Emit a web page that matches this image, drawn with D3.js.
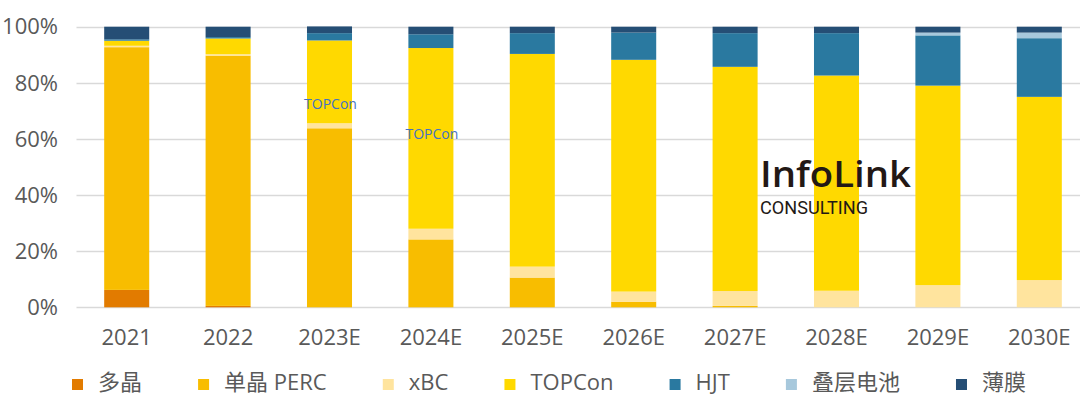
<!DOCTYPE html>
<html><head><meta charset="utf-8">
<script src="https://cdn.jsdelivr.net/npm/d3@7"></script>
<style>
html,body{margin:0;padding:0;background:#fff;}
svg{display:block;}
</style></head>
<body>
<svg id="chart" width="1080" height="399"></svg>
<script>
const categories = ["2021","2022","2023E","2024E","2025E","2026E","2027E","2028E","2029E","2030E"];
const seriesNames = ["多晶","单晶 PERC","xBC","TOPCon","HJT","叠层电池","薄膜"];
const poly     = [6.2, 0.5, 0,    0,    0,    0,    0,    0,    0,    0];
const perc     = [86.5,89.2,63.8, 24.2, 10.6, 2.0,  0.5,  0,    0,    0];
const xbc      = [0.5, 0.5, 1.8,  3.8,  3.9,  3.6,  5.3,  5.9,  7.9,  9.7];
const topcon   = [1.8, 5.6, 29.5, 64.4, 75.8, 82.6, 79.9, 76.7, 71.1, 65.3];
const hjt      = [0.5, 0.5, 2.6,  4.9,  7.4,  9.7,  12.0, 15.1, 17.9, 20.9];
const tandem   = [0,   0,   0,    0,    0,    0,    0,    0,    1.0,  2.0];
const thinFilm = [4.5, 3.7, 2.4,  2.7,  2.3,  2.1,  2.3,  2.3,  2.1,  2.1];
const yTicks = [0, 20, 40, 60, 80, 100];
const annotationCats = ["2023E","2024E"];
const annotationVals = [72.5, 61.7];
const annotationText = ["TOPCon","TOPCon"];
const colors = ["#E27B00","#F8BD00","#FFE49E","#FFD900","#2A79A0","#A7C8DC","#254E75"];

const seriesValues = [poly, perc, xbc, topcon, hjt, tandem, thinFilm];
const rows = categories.map((c, i) => {
  const r = {cat: c};
  seriesNames.forEach((s, k) => r[s] = seriesValues[k][i]);
  return r;
});

const svg = d3.select("#chart");
const x = d3.scaleBand().domain(categories).range([76, 1090]).paddingInner(0.556).paddingOuter(0.278);
const y = d3.scaleLinear().domain([0, 100]).range([307.3, 26.7]);

// gridlines
svg.append("g").selectAll("line").data(yTicks).join("line")
  .attr("x1", 76.5).attr("x2", 1080)
  .attr("y1", d => Math.round(y(d)) + 0.5).attr("y2", d => Math.round(y(d)) + 0.5)
  .attr("stroke", "#d9d9d9").attr("stroke-width", 1.3);

// y axis labels
const yAxis = d3.axisLeft(y).tickValues(yTicks).tickFormat(d => d + "%").tickSize(0).tickPadding(0);
const gy = svg.append("g").attr("transform", "translate(58,0)").call(yAxis);
gy.select(".domain").remove();
gy.selectAll("text").attr("font-family", "'Open Sans', sans-serif").attr("font-size", 22)
  .attr("fill", "#595959").attr("dy", "0.33em");

// stacked bars
const stack = d3.stack().keys(seriesNames);
const stacked = stack(rows);
svg.append("g").selectAll("g").data(stacked).join("g")
  .attr("fill", (d, i) => colors[i])
  .selectAll("rect").data(d => d).join("rect")
  .attr("x", d => x(d.data.cat))
  .attr("width", x.bandwidth())
  .attr("y", d => y(d[1]))
  .attr("height", d => Math.max(0, y(d[0]) - y(d[1])));

// x axis labels
const xAxis = d3.axisBottom(x).tickSize(0).tickPadding(0);
const gx = svg.append("g").attr("transform", "translate(0,345)").call(xAxis);
gx.select(".domain").remove();
gx.selectAll("text").attr("font-family", "'Open Sans', sans-serif").attr("font-size", 22)
  .attr("fill", "#595959").attr("dy", 0).attr("y", 0);

// annotations
svg.append("g").selectAll("text").data(annotationCats).join("text")
  .attr("x", d => x(d) + x.bandwidth() / 2 + 1)
  .attr("y", (d, i) => y(annotationVals[i]))
  .attr("dy", "0.35em")
  .attr("text-anchor", "middle")
  .attr("font-family", "'Open Sans', sans-serif").attr("font-size", 14)
  .attr("fill", "#4472C4")
  .text((d, i) => annotationText[i]);

// watermark
svg.append("text").attr("x", 760).attr("y", 187)
  .attr("font-family", "'Open Sans', sans-serif").attr("font-size", 36).attr("font-weight", 600)
  .attr("fill", "#231815").attr("textLength", 151).attr("lengthAdjust", "spacingAndGlyphs")
  .text("InfoLink");
svg.append("text").attr("x", 760).attr("y", 214)
  .attr("font-family", "Roboto, sans-serif").attr("font-size", 18)
  .attr("fill", "#231815").attr("textLength", 108).attr("lengthAdjust", "spacingAndGlyphs")
  .text("CONSULTING");

// legend
const lg = svg.append("g").attr("transform", "translate(0,390)");
const items = lg.selectAll("g").data(seriesNames).join("g");
items.append("rect").attr("width", 11).attr("height", 11).attr("y", -11)
  .attr("fill", (d, i) => colors[i]);
items.append("text").attr("x", 26).attr("y", 0)
  .attr("font-family", "'Open Sans', 'Noto Sans CJK SC', sans-serif").attr("font-size", 22)
  .attr("fill", "#595959").text(d => d);
const widths = [];
items.each(function() {
  widths.push(26 + d3.select(this).select("text").node().getComputedTextLength());
});
const legendStart = 72, legendEnd = 1026;
const gap = (legendEnd - legendStart - d3.sum(widths)) / (widths.length - 1);
let cx = legendStart;
items.attr("transform", (d, i) => {
  const t = `translate(${cx},0)`;
  cx += widths[i] + gap;
  return t;
});
</script>
</body></html>
